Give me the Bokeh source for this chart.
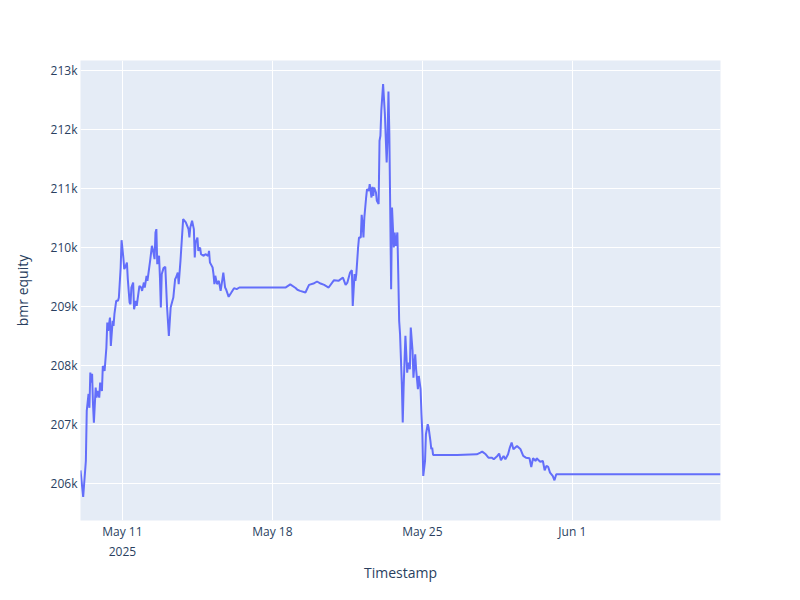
import pandas as pd
from bokeh.plotting import figure
from bokeh.models import Range1d, FixedTicker, ColumnDataSource
from bokeh.embed import file_html
from bokeh.resources import INLINE

start_time = "2025-05-09 00:00"
hours = [1, 4, 7, 8, 10, 11, 12, 13, 14, 15, 16, 18, 19, 20, 22, 23, 25, 26, 28, 30,
         31, 32, 34, 35, 37, 38, 39, 41, 43, 44, 46, 47, 49, 50, 51, 53, 54, 56, 57, 58,
         60, 61, 63, 64, 67, 69, 70, 72, 73, 75, 76, 78, 79, 81, 82, 84, 85, 86, 87, 89,
         90, 91, 92, 94, 96, 98, 100, 102, 104, 105, 107, 108, 110, 111, 113, 116, 119, 122, 123, 124,
         126, 128, 129, 130, 132, 133, 135, 136, 139, 141, 144, 145, 146, 147, 149, 150, 151, 152, 154, 156,
         158, 160, 161, 163, 164, 167, 170, 173, 176, 179, 231, 236, 242, 244, 247, 253, 257, 262, 266, 270,
         274, 279, 285, 290, 295, 298, 300, 303, 305, 306, 308, 309, 310, 312, 313, 315, 316, 317, 318, 319,
         321, 322, 324, 325, 327, 328, 329, 330, 332, 333, 335, 336, 337, 338, 340, 342, 344, 345, 346, 347,
         348, 349, 350, 352, 353, 354, 356, 357, 358, 359, 361, 362, 363, 365, 367, 368, 370, 371, 373, 374,
         376, 377, 379, 380, 382, 383, 384, 385, 387, 388, 390, 391, 393, 394, 395, 396, 423, 445, 449, 451,
         455, 458, 462, 464, 468, 470, 472, 475, 477, 480, 482, 484, 486, 490, 494, 497, 500, 504, 506, 508,
         511, 512, 516, 519, 521, 523, 525, 527, 530, 532, 534, 718]
equity = [206230, 205780, 206390, 207237, 207525, 207290, 207887, 207717, 207865, 207350,
          207040, 207632, 207463, 207576, 207463, 207717, 207576, 208000, 207915, 208310,
          208734, 208593, 208819, 208339, 208763, 208678, 208876, 209102, 209102, 209158,
          209667, 210130, 209836, 209640, 209667, 209752, 209470, 209073, 209045, 209328,
          209412, 208960, 209102, 209017, 209356, 209328, 209271, 209412, 209328, 209526,
          209441, 209667, 209780, 210034, 209978, 209809, 210260, 210317, 209724, 209865,
          209497, 208989, 209554, 209656, 209678, 208989, 208509, 208989, 209102, 209158,
          209470, 209497, 209582, 209385, 209780, 210487, 210430, 210317, 210175, 210345,
          210458, 210317, 209836, 210090, 210175, 209949, 210005, 209893, 209865, 209893,
          209865, 209949, 209752, 209724, 209667, 209554, 209385, 209526, 209385, 209441,
          209271, 209470, 209582, 209328, 209300, 209170, 209243, 209317, 209300, 209328,
          209330, 209380, 209320, 209290, 209271, 209243, 209373, 209395, 209430, 209395,
          209373, 209328, 209452, 209441, 209497, 209373, 209412, 209582, 209622, 209017,
          209554, 209441, 209554, 210005, 210175, 210175, 210560, 210401, 210175, 210514,
          210853, 210995, 210966, 211080, 210853, 211034, 210882, 211023, 210938, 210797,
          210741, 211814, 211899, 212322, 212775, 212266, 211446, 211842, 212650, 211927,
          210628, 209300, 210684, 210005, 210260, 210034, 210260, 209554, 208763, 208537,
          207690, 207040, 207632, 208509, 207887, 208056, 207943, 208650, 208254, 207802,
          208198, 207943, 207605, 207830, 207605, 207181, 206842, 206136, 206390, 206842,
          207012, 206955, 206729, 206588, 206616, 206492, 206492, 206503, 206531, 206548,
          206503, 206446, 206446, 206418, 206475, 206514, 206402, 206475, 206418, 206503,
          206616, 206701, 206588, 206644, 206588, 206475, 206446, 206435, 206288, 206435,
          206390, 206435, 206378, 206390, 206232, 206305, 206288, 206192, 206136, 206063,
          206164, 206164]
x_tick_dates = ["2025-05-11", "2025-05-18", "2025-05-25", "2025-06-01"]
x_tick_labels = ["May 11\n2025", "May 18", "May 25", "Jun 1"]
y_ticks = [206000, 207000, 208000, 209000, 210000, 211000, 212000, 213000]
y_tick_labels = ["206k", "207k", "208k", "209k", "210k", "211k", "212k", "213k"]

t0 = pd.Timestamp(start_time)
times = [t0 + pd.Timedelta(hours=h) for h in hours]
src = ColumnDataSource(dict(t=times, v=equity))

def ms(ts):
    return pd.Timestamp(ts).value / 1e6

vmin, vmax = min(equity), max(equity)
pad = (vmax - vmin) * 0.057

FONT = "Open Sans"
TXT = "#2a3f5f"

p = figure(width=800, height=600, x_axis_type="datetime",
           output_backend="svg", toolbar_location=None,
           x_range=Range1d(ms(times[0]), ms(times[-1])),
           y_range=Range1d(vmin - pad, vmax + pad),
           min_border_left=80, min_border_right=80,
           min_border_top=60, min_border_bottom=80)
p.background_fill_color = "#E5ECF6"
p.border_fill_color = "white"
p.outline_line_color = None

p.line("t", "v", source=src, line_color="#636efa", line_width=2)

p.xaxis.ticker = FixedTicker(ticks=[ms(d) for d in x_tick_dates])
p.xaxis.major_label_overrides = {ms(d): l for d, l in zip(x_tick_dates, x_tick_labels)}
p.yaxis.ticker = FixedTicker(ticks=y_ticks)
p.yaxis.major_label_overrides = {t: l for t, l in zip(y_ticks, y_tick_labels)}

for ax in (p.xaxis[0], p.yaxis[0]):
    ax.axis_line_color = None
    ax.major_tick_line_color = None
    ax.minor_tick_line_color = None
    ax.major_tick_out = 0
    ax.major_tick_in = 0
    ax.minor_tick_out = 0
    ax.minor_tick_in = 0
    ax.major_label_text_font = FONT
    ax.major_label_text_font_size = "12px"
    ax.major_label_text_color = TXT
    ax.axis_label_text_font = FONT
    ax.axis_label_text_font_size = "14px"
    ax.axis_label_text_color = TXT
    ax.axis_label_text_font_style = "normal"

p.xaxis.axis_label = "Timestamp"
p.yaxis.axis_label = "bmr equity"
p.xaxis.major_label_standoff = 2
p.yaxis.major_label_standoff = 3
p.xaxis.axis_label_standoff = 0
p.yaxis.axis_label_standoff = 16

p.xgrid.grid_line_color = "white"
p.ygrid.grid_line_color = "white"
p.xgrid.grid_line_width = 1
p.ygrid.grid_line_width = 1

open("out.html", "w").write(file_html(p, INLINE))
